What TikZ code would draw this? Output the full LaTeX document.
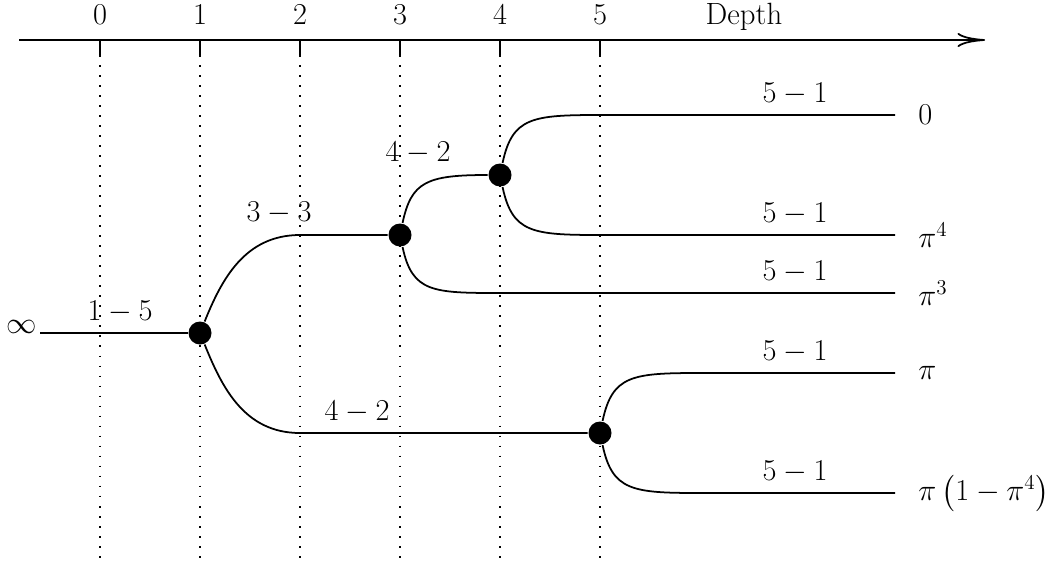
\documentclass[tikz,border=0pt]{standalone}
\usepackage{amsmath}
\usepackage{tikz}
\usetikzlibrary{arrows.meta,positioning}

\begin{document}
\begin{tikzpicture}[
  font=\fontsize{17.5}{21}\selectfont, line width=1pt,
  vertex/.style={circle, fill, inner sep=0pt, minimum size=0.46cm},
  cost/.style={inner sep=0pt},
  leaf/.style={anchor=west, inner sep=0pt},
  guide/.style={dash pattern=on 1pt off 4.7pt},
  rise/.style={out=#1, in=180, out looseness=1.1, in looseness=1.6},
  fall/.style={out=-#1, in=180, out looseness=1.1, in looseness=1.6}
]
\useasboundingbox (0,0) rectangle (21.2,-11.2);

% depth axis
\coordinate (axstart) at (0.38,-0.8);
\coordinate (axend) at (19.7,-0.8);
\draw[-{To[length=5.5mm,width=2.8mm]}] (axstart) -- (axend);
\node[anchor=base] (depth) at (14.88,-0.5) {Depth};
\foreach \d in {0,...,5} {
  \node[anchor=base] (t\d) at (2*\d+2,-0.5) {$\d$};
  \coordinate (tick\d) at (2*\d+2,-1.1);
  \draw (2*\d+2,-0.8) -- (tick\d);
  \draw[guide] (tick\d) -- ++(0,-10.1);
}

% tree
\node[anchor=base east, inner sep=1.5pt] (inf) at (0.8,-6.66) {$\infty$};
\node[vertex] (d1) at (4,-6.66) {};
\node[vertex] (d3) at (8,-4.7) {};
\node[vertex] (d4) at (10,-3.5) {};
\node[vertex] (d5) at (12,-8.66) {};

\coordinate (up1) at (6,-4.7);
\coordinate (lo1) at (6,-8.66);
\coordinate (lo3) at (10,-5.86);
\coordinate (up4) at (12,-2.3);
\coordinate (lo4) at (12,-4.7);
\coordinate (up5) at (14,-7.46);
\coordinate (lo5) at (14,-9.86);

\coordinate (e1) at (17.9,-2.3);
\coordinate (e2) at (17.9,-4.7);
\coordinate (e3) at (17.9,-5.86);
\coordinate (e4) at (17.9,-7.46);
\coordinate (e5) at (17.9,-9.86);

\node[leaf, right=0.45cm of e1] (v1) {$0$};
\node[leaf, right=0.45cm of e2] (v2) {$\pi^{4}$};
\node[leaf, right=0.45cm of e3] (v3) {$\pi^{3}$};
\node[leaf, right=0.45cm of e4] (v4) {$\pi$};
\node[leaf, right=0.45cm of e5] (v5) {$\pi\left(1-\pi^{4}\right)$};

\draw (inf.base east) -- (d1);
\draw (d1) to[rise=68, out looseness=0.9, in looseness=1.1] (up1) -- (d3);
\draw (d1) to[fall=68, out looseness=0.9, in looseness=1.1] (lo1) -- (d5);
\draw (d3) to[rise=78] (d4);
\draw (d3) to[fall=78] (lo3) -- (e3);
\draw (d4) to[rise=78] (up4) -- (e1);
\draw (d4) to[fall=78] (lo4) -- (e2);
\draw (d5) to[rise=78] (up5) -- (e4);
\draw (d5) to[fall=78] (lo5) -- (e5);

% costs
\node[cost] (c1) at (2.4,-6.24) {$1-5$};
\node[cost] (c2) at (5.58,-4.26) {$3-3$};
\node[cost] (c3) at (8.36,-3.06) {$4-2$};
\node[cost] (c4) at (7.14,-8.24) {$4-2$};
\foreach \y [count=\i] in {-1.88,-4.28,-5.44,-7.04,-9.44}
  \node[cost] (w\i) at (15.9,\y) {$5-1$};
\end{tikzpicture}
\end{document}
